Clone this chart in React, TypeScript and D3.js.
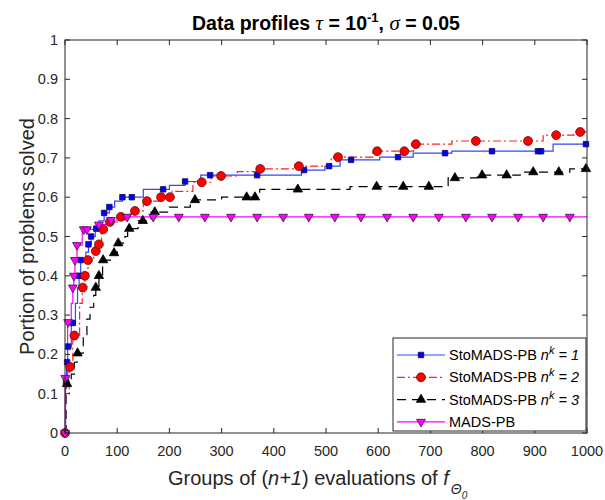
import React from "react";
import * as d3 from "d3";

// ---- data (step functions: breakpoints x / y, and marker x positions) ----
const xTicks = [0, 100, 200, 300, 400, 500, 600, 700, 800, 900, 1000];
const yTicks = [0, 0.1, 0.2, 0.3, 0.4, 0.5, 0.6, 0.7, 0.8, 0.9, 1];

const blueX = [0, 1, 3, 5, 12, 20, 24, 27, 30, 40, 45, 50, 58, 65, 75, 85, 95, 110, 150, 200, 230, 260, 453, 498, 527, 603, 667, 741, 935, 1000];
const blueY = [0, 0.13, 0.18, 0.22, 0.28, 0.33, 0.37, 0.40, 0.44, 0.46, 0.48, 0.50, 0.52, 0.54, 0.56, 0.575, 0.59, 0.60, 0.62, 0.63, 0.64, 0.656, 0.669, 0.679, 0.695, 0.702, 0.712, 0.717, 0.735, 0.735];
const blueMarkX = [0, 2, 4, 6, 15, 27, 30, 45, 50, 60, 75, 85, 110, 128, 188, 230, 278, 368, 458, 506, 548, 638, 728, 818, 906, 912, 998];

const redX = [0, 1, 8, 15, 28, 33, 38, 44, 55, 62, 70, 80, 100, 125, 150, 180, 205, 245, 280, 330, 370, 440, 510, 590, 668, 741, 916, 975, 1000];
const redY = [0, 0.10, 0.168, 0.248, 0.33, 0.37, 0.40, 0.44, 0.463, 0.48, 0.518, 0.537, 0.55, 0.565, 0.59, 0.60, 0.615, 0.638, 0.654, 0.665, 0.672, 0.679, 0.702, 0.717, 0.735, 0.743, 0.758, 0.766, 0.766];
const redMarkX = [0, 10, 18, 34, 38, 44, 59, 65, 73, 86, 107, 134, 157, 184, 201, 262, 299, 374, 448, 523, 598, 650, 672, 787, 887, 941, 987];

const blackX = [0, 2, 12, 18, 23, 35, 42, 48, 55, 59, 65, 72, 90, 100, 115, 120, 140, 165, 200, 240, 300, 373, 546, 734, 790, 872, 967, 1000];
const blackY = [0, 0.125, 0.15, 0.18, 0.203, 0.25, 0.29, 0.32, 0.35, 0.37, 0.40, 0.44, 0.458, 0.483, 0.50, 0.52, 0.54, 0.562, 0.575, 0.593, 0.60, 0.62, 0.627, 0.649, 0.656, 0.664, 0.672, 0.672];
const blackMarkX = [4, 24, 59, 65, 73, 94, 102, 123, 149, 172, 249, 348, 364, 446, 597, 648, 697, 747, 799, 846, 897, 946, 998];

const magX = [0, 0.5, 5, 12, 15, 17, 19, 23, 33, 60, 85, 115, 1000];
const magY = [0, 0.14, 0.282, 0.33, 0.37, 0.40, 0.44, 0.478, 0.518, 0.53, 0.542, 0.55, 0.55];
const magMarkX = [0, 0.5, 6, 15, 17, 19, 23, 36, 42, 65, 88, 119, 169, 218, 268, 318, 368, 418, 467, 517, 567, 617, 667, 716, 768, 818, 868, 916, 967];

const W = 605, H = 500;
const L = 65, R = 587, T = 40, B = 433;
const axisColor = "#262626";
const sans = "'Liberation Sans', Arial, sans-serif";
const serif = "'Liberation Serif', 'Times New Roman', serif";

const x = d3.scaleLinear().domain([0, 1000]).range([L, R]);
const y = d3.scaleLinear().domain([0, 1]).range([B, T]);

function stepAt(xs: number[], ys: number[], v: number) {
  const i = Math.max(0, d3.bisectRight(xs, v) - 1);
  return ys[i];
}

const lineGen = d3
  .line<[number, number]>()
  .x((d) => x(d[0]))
  .y((d) => y(d[1]))
  .curve(d3.curveStepAfter);

type Series = {
  xs: number[];
  ys: number[];
  mx: number[];
  color: string;
  stroke: string;
  dash?: string;
  symbol: d3.SymbolType;
  size: number;
  rotate?: number;
  edge: string;
};

const series: Series[] = [
  { xs: blueX, ys: blueY, mx: blueMarkX, color: "#0000ff", stroke: "#3345ff", symbol: d3.symbolSquare, size: 30, edge: "#101040" },
  { xs: redX, ys: redY, mx: redMarkX, color: "#ff0000", stroke: "#ff2020", dash: "8,3,2,3", symbol: d3.symbolCircle, size: 62, edge: "#601010" },
  { xs: blackX, ys: blackY, mx: blackMarkX, color: "#000000", stroke: "#000000", dash: "9,6", symbol: d3.symbolTriangle, size: 38, edge: "#000000" },
  { xs: magX, ys: magY, mx: magMarkX, color: "#ff00ff", stroke: "#ff00ff", symbol: d3.symbolTriangle, size: 34, rotate: 180, edge: "#401040" },
];

const legendLabels = ["1", "2", "3"];

export default function App() {
  const sym = (s: Series) => d3.symbol().type(s.symbol).size(s.size)() as string;
  return (
    <svg width={W} height={H} style={{ position: "absolute", left: 0, top: 0, background: "#fff" }}>
      <rect x={0} y={0} width={W} height={H} fill="#fff" />
      <rect x={L} y={T} width={R - L} height={B - T} fill="#fff" />
      <defs>
        <clipPath id="plotclip">
          <rect x={L - 6} y={T - 6} width={R - L + 12} height={B - T + 12} />
        </clipPath>
      </defs>

      {/* series */}
      <g clipPath="url(#plotclip)">
        {series.map((s, i) => (
          <path
            key={"l" + i}
            d={lineGen(s.xs.map((v, j) => [v, s.ys[j]] as [number, number])) as string}
            fill="none"
            stroke={s.stroke}
            strokeWidth={1.2}
            strokeDasharray={s.dash}
          />
        ))}
        {series.map((s, i) => (
          <g key={"m" + i}>
            {s.mx.map((v, j) => (
              <path
                key={j}
                d={sym(s)}
                transform={`translate(${x(v)},${y(stepAt(s.xs, s.ys, v))})${s.rotate ? ` rotate(${s.rotate})` : ""}`}
                fill={s.color}
                stroke={s.edge}
                strokeWidth={0.8}
              />
            ))}
          </g>
        ))}
      </g>

      {/* axes box */}
      <rect x={L} y={T} width={R - L} height={B - T} fill="none" stroke={axisColor} strokeWidth={1} />
      {xTicks.map((t) => (
        <g key={"xt" + t}>
          <line x1={x(t)} x2={x(t)} y1={B} y2={B - 5} stroke={axisColor} />
          <line x1={x(t)} x2={x(t)} y1={T} y2={T + 5} stroke={axisColor} />
          <text x={x(t)} y={456} textAnchor="middle" fontFamily={sans} fontSize={14.5} fill={axisColor}>
            {t}
          </text>
        </g>
      ))}
      {yTicks.map((t) => (
        <g key={"yt" + t}>
          <line x1={L} x2={L + 5} y1={y(t)} y2={y(t)} stroke={axisColor} />
          <line x1={R} x2={R - 5} y1={y(t)} y2={y(t)} stroke={axisColor} />
          <text x={58} y={y(t) + 5} textAnchor="end" fontFamily={sans} fontSize={14.5} fill={axisColor}>
            {String(t)}
          </text>
        </g>
      ))}

      {/* title */}
      <text x={(L + R) / 2} y={30} textAnchor="middle" fontFamily={sans} fontSize={19.5} fontWeight="bold" fill="#000">
        <tspan>Data profiles </tspan>
        <tspan fontFamily={serif} fontStyle="italic" fontWeight="normal" fontSize={21}>τ</tspan>
        <tspan> = 10</tspan>
        <tspan dy={-8} fontSize={13}>-1</tspan>
        <tspan dy={8}>, </tspan>
        <tspan fontFamily={serif} fontStyle="italic" fontWeight="normal" fontSize={21}>σ</tspan>
        <tspan> = 0.05</tspan>
      </text>

      {/* x label */}
      <text x={168} y={485} fontFamily={sans} fontSize={20} fill={axisColor}>
        <tspan>Groups of (</tspan>
        <tspan fontStyle="italic">n+1</tspan>
        <tspan>) evaluations of </tspan>
        <tspan fontStyle="italic">f</tspan>
        <tspan fontStyle="italic" fontSize={14} dy={9} dx={2}>Θ</tspan>
        <tspan fontStyle="italic" fontSize={10} dy={5}>0</tspan>
      </text>

      {/* y label */}
      <text
        transform={`translate(34,${(T + B) / 2}) rotate(-90)`}
        textAnchor="middle"
        fontFamily={sans}
        fontSize={20}
        fill={axisColor}
      >
        Portion of problems solved
      </text>

      {/* legend */}
      <g>
        <rect x={393} y={338} width={193} height={93} fill="#fff" stroke={axisColor} strokeWidth={1} />
        {series.map((s, i) => {
          const cy = 355 + i * 22.3;
          return (
            <g key={"lg" + i}>
              <line x1={397} x2={445} y1={cy} y2={cy} stroke={s.stroke} strokeWidth={1.2} strokeDasharray={s.dash} />
              <path
                d={sym(s)}
                transform={`translate(421,${cy})${s.rotate ? ` rotate(${s.rotate})` : ""}`}
                fill={s.color}
                stroke={s.edge}
                strokeWidth={0.8}
              />
              <text x={449} y={cy + 5} fontFamily={sans} fontSize={14.5} fill="#000">
                {i < 3 ? (
                  <>
                    <tspan>StoMADS-PB </tspan>
                    <tspan fontStyle="italic">n</tspan>
                    <tspan fontStyle="italic" fontSize={11} dy={-6}>k</tspan>
                    <tspan fontStyle="italic" dy={6}> = {legendLabels[i]}</tspan>
                  </>
                ) : (
                  "MADS-PB"
                )}
              </text>
            </g>
          );
        })}
      </g>
    </svg>
  );
}
